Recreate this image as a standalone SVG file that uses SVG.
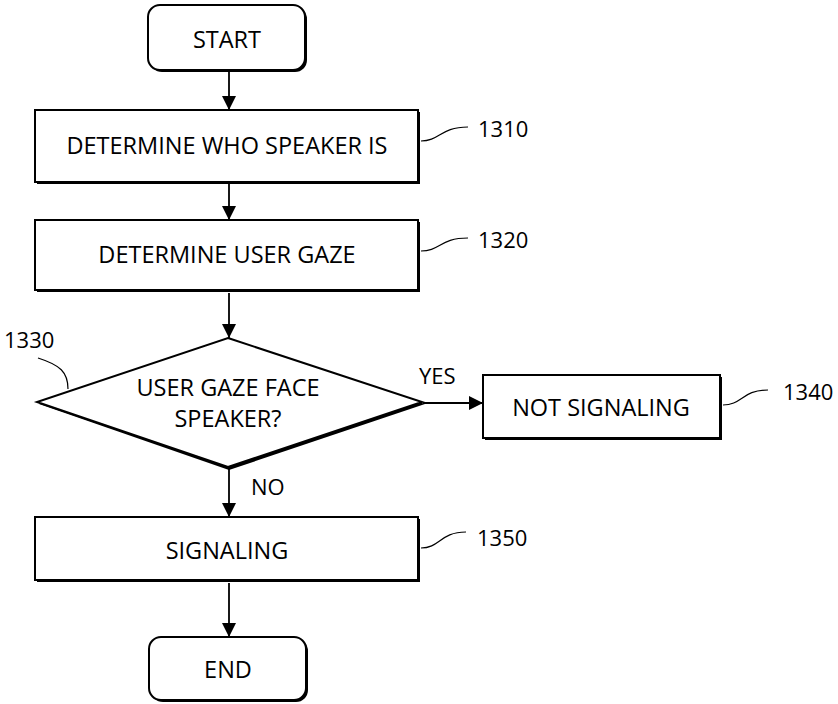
<svg xmlns="http://www.w3.org/2000/svg" width="838" height="704" viewBox="0 0 838 704">
  <style>
    .box { fill: #ffffff; stroke: #000000; stroke-width: 2; }
    .shadow { fill: #000000; stroke: none; }
    .label { font-family: "Open Sans", "Liberation Sans", sans-serif; font-size: 23.5px; fill: #000000; text-anchor: middle; }
    .ref { font-family: "Open Sans", "Liberation Sans", sans-serif; font-size: 22px; fill: #000000; }
    .lead { fill: none; stroke: #000000; stroke-width: 1.2; }
    .conn { fill: none; stroke: #000000; stroke-width: 1.8; marker-end: url(#arrow); }
  </style>
  <defs>
    <!-- filled triangular arrowhead shared by every connector -->
    <marker id="arrow" viewBox="0 0 10 10" refX="10" refY="5" markerWidth="8" markerHeight="8" markerUnits="strokeWidth" orient="auto">
      <path d="M0,0 L10,5 L0,10 Z" fill="#000000"/>
    </marker>
  </defs>

  <rect width="838" height="704" fill="#ffffff"/>

  <g id="connectors">
    <line class="conn" x1="229" y1="72" x2="229" y2="110"/>
    <line class="conn" x1="229" y1="184" x2="229" y2="220"/>
    <line class="conn" x1="229" y1="293" x2="229" y2="338"/>
    <line class="conn" x1="423" y1="403" x2="483" y2="403"/>
    <line class="conn" x1="229" y1="468" x2="229" y2="517"/>
    <line class="conn" x1="229" y1="583" x2="229" y2="637"/>
    <text class="ref" x="419" y="384">YES</text>
    <text class="ref" x="251" y="495">NO</text>
  </g>

  <g id="start">
    <rect class="shadow" x="150" y="7" width="157" height="65" rx="12"/>
    <rect class="box" x="148" y="5" width="157" height="65" rx="12"/>
    <text class="label" x="227" y="48">START</text>
  </g>

  <g id="n1310">
    <rect class="shadow" x="37" y="112" width="383" height="72"/>
    <rect class="box" x="35" y="110" width="383" height="72"/>
    <text class="label" x="227" y="154">DETERMINE WHO SPEAKER IS</text>
    <path class="lead" d="M421,141 C440,141 440,127 468,127"/>
    <text class="ref" x="478" y="137">1310</text>
  </g>

  <g id="n1320">
    <rect class="shadow" x="37" y="222" width="383" height="70"/>
    <rect class="box" x="35" y="220" width="383" height="70"/>
    <text class="label" x="227" y="263">DETERMINE USER GAZE</text>
    <path class="lead" d="M421,251 C440,251 440,238 468,238"/>
    <text class="ref" x="478" y="248">1320</text>
  </g>

  <g id="n1330">
    <path class="shadow" d="M229,340 L425,404 L229,470 L39,404 Z"/>
    <path class="box" d="M228,338 L422,402 L228,467 L37,402 Z"/>
    <text class="label" x="228" y="396">USER GAZE FACE</text>
    <text class="label" x="228" y="427">SPEAKER?</text>
    <path class="lead" d="M38,358 C60,365 68,372 68,389"/>
    <text class="ref" x="4" y="348">1330</text>
  </g>

  <g id="n1340">
    <rect class="shadow" x="485" y="377" width="237" height="63"/>
    <rect class="box" x="483" y="375" width="237" height="63"/>
    <text class="label" x="601" y="416">NOT SIGNALING</text>
    <path class="lead" d="M723,405 C742,405 742,390 768,390"/>
    <text class="ref" x="783" y="400">1340</text>
  </g>

  <g id="n1350">
    <rect class="shadow" x="37" y="519" width="383" height="63"/>
    <rect class="box" x="35" y="517" width="383" height="63"/>
    <text class="label" x="227" y="559">SIGNALING</text>
    <path class="lead" d="M421,548 C440,548 440,532 466,532"/>
    <text class="ref" x="477" y="546">1350</text>
  </g>

  <g id="end">
    <rect class="shadow" x="151" y="639" width="157" height="63" rx="12"/>
    <rect class="box" x="149" y="637" width="157" height="63" rx="12"/>
    <text class="label" x="228" y="678">END</text>
  </g>
</svg>
